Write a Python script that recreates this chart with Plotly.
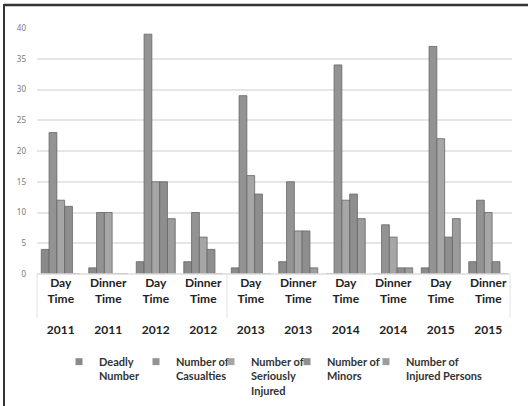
import plotly.graph_objects as go

# Categories (time of day + year)
periods = ["Day<br>Time", "Dinner<br>Time"] * 5
years = ["2011", "2011", "2012", "2012", "2013", "2013", "2014", "2014", "2015", "2015"]

# Series values
deadly = [4, 1, 2, 2, 1, 2, 0, 0, 1, 2]
casualties = [23, 10, 39, 10, 29, 15, 34, 8, 37, 12]
seriously_injured = [12, 10, 15, 6, 16, 7, 12, 6, 22, 10]
minors = [11, 0, 15, 4, 13, 7, 13, 1, 6, 2]
injured_persons = [0, 0, 9, 0, 0, 1, 9, 1, 9, 0]

series = [
    ("Deadly<br>Number", deadly, "#8a8a8a"),
    ("Number of<br>Casualties", casualties, "#939393"),
    ("Number of<br>Seriously<br>Injured", seriously_injured, "#a6a6a6"),
    ("Number of<br>Minors", minors, "#8e8e8e"),
    ("Number of<br>Injured Persons", injured_persons, "#9c9c9c"),
]

y_ticks = [0, 5, 10, 15, 20, 25, 30, 35, 40]

W, H = 528, 406
ML, MR, MT, MB = 37, 16, 28, 132
PW, PH = W - ML - MR, H - MT - MB

# left edge of each legend label, in pixels
legend_text_x = [97, 174, 249, 325, 404]
LABEL_FONT = "Lato"

x_idx = list(range(len(periods)))
tick_text = [f"<b>{p}</b><br><br><b>{y}</b>" for p, y in zip(periods, years)]


def px_x(px):
    return (px - ML) / PW


def px_y(py):
    return (H - MB - py) / PH


fig = go.Figure()
for name, vals, color in series:
    fig.add_trace(go.Bar(
        x=x_idx, y=vals, name=name, showlegend=False, legendgroup=name,
        marker=dict(color=color, line=dict(color="#666666", width=0.8)),
    ))

# one small legend per series, placed side by side
legend_layouts = {}
for i, (name, vals, color) in enumerate(series):
    key = "legend" if i == 0 else f"legend{i + 1}"
    fig.add_trace(go.Scatter(
        x=[None], y=[None], mode="markers", name=f"<b>{name}</b>",
        legendgroup=name, legend=key,
        marker=dict(symbol="square", size=7, color=color),
    ))
    legend_layouts[key] = dict(
        x=px_x(legend_text_x[i] - 38), y=px_y(348), xanchor="left", yanchor="top",
        valign="top", bgcolor="rgba(0,0,0,0)",
        font=dict(family=LABEL_FONT, size=11, color="#333333"),
        tracegroupgap=0,
    )

shapes = [
    # outer frame (top and left edges)
    dict(type="line", xref="paper", yref="paper", x0=px_x(4), x1=px_x(W + 2),
         y0=px_y(5), y1=px_y(5), line=dict(color="#333333", width=2.5)),
    dict(type="line", xref="paper", yref="paper", x0=px_x(4), x1=px_x(4),
         y0=px_y(4), y1=px_y(H + 2), line=dict(color="#333333", width=2)),
    # category label box
    dict(type="line", xref="paper", yref="paper", x0=px_x(37), x1=px_x(37),
         y0=px_y(274), y1=px_y(318), line=dict(color="#e2e2e2", width=1)),
    dict(type="line", xref="paper", yref="paper", x0=px_x(227), x1=px_x(227),
         y0=px_y(274), y1=px_y(318), line=dict(color="#e2e2e2", width=1)),
    dict(type="line", xref="paper", yref="paper", x0=px_x(510), x1=px_x(510),
         y0=px_y(274), y1=px_y(318), line=dict(color="#e2e2e2", width=1)),
    dict(type="line", xref="paper", yref="paper", x0=px_x(37), x1=px_x(510),
         y0=px_y(274), y1=px_y(274), line=dict(color="#dcdcdc", width=1.5)),
]

fig.update_layout(
    width=W, height=H,
    margin=dict(l=ML, r=MR, t=MT, b=MB, autoexpand=False),
    paper_bgcolor="white", plot_bgcolor="white",
    barmode="group", bargap=0.18, bargroupgap=0,
    font=dict(family=LABEL_FONT, color="#222222"),
    xaxis=dict(
        tickmode="array", tickvals=x_idx, ticktext=tick_text,
        range=[-0.5, 9.5], showgrid=False, zeroline=False, showline=False,
        ticks="", tickfont=dict(family=LABEL_FONT, size=12, color="#222222"),
        tickangle=0,
    ),
    yaxis=dict(
        range=[0, 40], tickvals=y_ticks, showgrid=True, gridcolor="#e6e6e6",
        gridwidth=1.5, zeroline=False, showline=False,
        tickfont=dict(family="Noto Sans", size=8, color="#777777"),
        ticklabelstandoff=10,
    ),
    shapes=shapes,
    showlegend=True,
    **legend_layouts,
)

fig.write_html("out.html")
